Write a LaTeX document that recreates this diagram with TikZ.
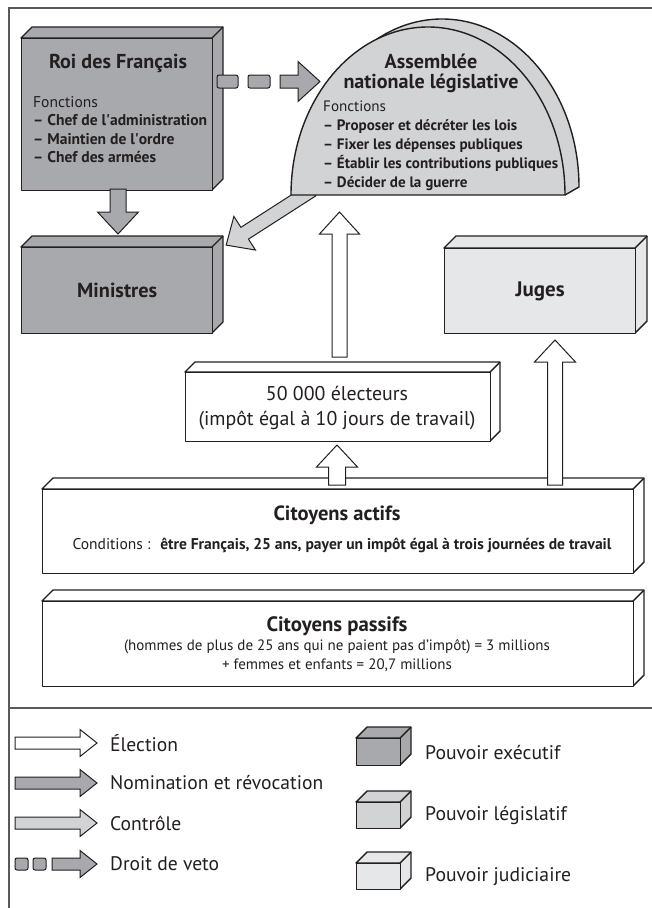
\documentclass[tikz,border=0pt]{standalone}
\usepackage{fontspec}
\setmainfont{PT Sans}
\usetikzlibrary{calc}
\definecolor{ink}{RGB}{35,31,32}
\definecolor{exe}{RGB}{167,169,172}
\definecolor{leg}{RGB}{209,211,212}
\definecolor{jud}{RGB}{230,231,232}
\definecolor{framec}{RGB}{88,89,91}
\newlength\fitw
\newcommand\fitfs[3]{%
  \settowidth\fitw{\fontsize{10}{12}\selectfont #3}%
  \pgfmathsetmacro#1{10*#2/\fitw}}
\tikzset{
  boxline/.style={draw=ink, line width=1.4pt, line join=round},
  arrline/.style={draw=ink, line width=1pt, line join=miter},
  frameline/.style={draw=framec, line width=1.2pt},
  basetxt/.style={inner sep=0pt, text=ink},
}
\newcommand\cuboid[7]{%
  \draw[boxline, fill=#6] (#2,#3) -- ({#2+#7},{#3-#7}) -- ({#4+#7},{#3-#7}) -- ({#4+#7},{#5-#7}) -- (#4,#5) -- (#4,#3) -- cycle;
  \draw[boxline] (#4,#3) -- ({#4+#7},{#3-#7});
  \node[boxline, fill=#6, inner sep=0pt, minimum width={(#4-#2)*1pt}, minimum height={(#5-#3)*1pt}, anchor=north west] (#1) at (#2,#3) {};
}
\newcommand\fatarrow[8]{%
  \begin{scope}[shift={(#2,#3)}, rotate=#4]
    \draw[arrline, fill=#1] (0,-#6) -- ({#5-#8},-#6) -- ({#5-#8},-#7) -- (#5,0) -- ({#5-#8},#7) -- ({#5-#8},#6) -- (0,#6) -- cycle;
  \end{scope}}
\newcommand\apos{\textquotesingle}
\begin{document}%
% font sizes fitted to the widths measured on the reference
\fitfs{\fsRoiT}{138}{\bfseries Roi des Français}%
\fitfs{\fsRoiL}{174}{\bfseries – Chef de l\apos administration}%
\fitfs{\fsAsT}{175}{\bfseries nationale législative}%
\fitfs{\fsAsL}{235}{\bfseries – Établir les contributions publiques}%
\fitfs{\fsMin}{80}{\bfseries Ministres}%
\fitfs{\fsJug}{49}{\bfseries Juges}%
\fitfs{\fsEle}{277}{(impôt égal à 10 jours de travail)}%
\fitfs{\fsActT}{127}{\bfseries Citoyens actifs}%
\fitfs{\fsActC}{539}{Conditions :~ \textbf{être Français, 25 ans, payer un impôt égal à trois journées de travail}}%
\fitfs{\fsPasT}{141}{\bfseries Citoyens passifs}%
\fitfs{\fsPasC}{426}{(hommes de plus de 25 ans qui ne paient pas d’impôt) = 3 millions}%
\fitfs{\fsLeg}{213}{Nomination et révocation}%
\fitfs{\fsLegR}{146}{Pouvoir judiciaire}%
\begin{tikzpicture}[x=1pt,y=-1pt]
\useasboundingbox (0,0) rectangle (652,908);
\fill[white] (0,0) rectangle (652,908);
% frame
\draw[frameline] (9,908) -- (9,8) -- (652,8);
\draw[frameline] (9,708) -- (652,708);

% boxes
\cuboid{roi}{21}{38}{212}{190}{exe}{11}
\cuboid{min}{21}{247}{212}{333}{exe}{11}
\cuboid{jug}{444}{248}{635}{333}{jud}{12}
\cuboid{ele}{185}{372}{490}{441}{white}{10}
\cuboid{act}{42}{489}{633}{573}{white}{11}
\cuboid{pas}{42}{601}{633}{686}{white}{11}

% arrows
\fatarrow{exe}{118}{189}{-90}{45}{8}{20.5}{22}
\fatarrow{leg}{312}{190}{212.7}{102}{7}{20}{22}
% veto
\draw[arrline, fill=exe, rounded corners=2pt] (217,75) rectangle (238,88);
\draw[arrline, fill=exe, rounded corners=2pt] (248,75) rectangle (270,88);
\fatarrow{exe}{280}{81.5}{0}{40}{6.5}{20}{22}

% dome (Assemblee)
\fill[leg] (305,187) arc[start angle=180, end angle=0, x radius=137pt, y radius=168pt] -- (565,195) -- cycle;
\draw[boxline] (305,187) arc[start angle=180, end angle=0, x radius=137pt, y radius=168pt] -- (565,195);
\draw[boxline, fill=leg] (291,195) arc[start angle=180, end angle=0, x radius=137pt, y radius=168pt] -- cycle;

% election arrows
\fatarrow{white}{339.5}{357}{90}{145}{7.5}{20}{22}
\fatarrow{white}{337}{485}{90}{40}{8.5}{20.5}{22}
\fatarrow{white}{555}{485}{90}{145}{7.5}{20.5}{22}

% texts
\node[basetxt, font=\fontsize{\fsRoiT}{20}\selectfont\bfseries] (roiT) at (118,63) {Roi des Français};
\node[basetxt, font=\fontsize{\fsRoiL}{18.4}\selectfont, align=left, anchor=west] (roiF) at (33,129.5) {Fonctions\\\textbf{– Chef de l\apos administration}\\\textbf{– Maintien de l\apos ordre}\\\textbf{– Chef des armées}};
\node[basetxt, font=\fontsize{\fsAsT}{20}\selectfont\bfseries, align=center] (asT) at (431,73) {Assemblée\\nationale législative};
\node[basetxt, font=\fontsize{\fsAsL}{18.9}\selectfont, align=left, anchor=west] (asF) at (323,145.5) {Fonctions\\\textbf{– Proposer et décréter les lois}\\\textbf{– Fixer les dépenses publiques}\\\textbf{– Établir les contributions publiques}\\\textbf{– Décider de la guerre}};
\node[basetxt, font=\fontsize{\fsMin}{20}\selectfont\bfseries] (minT) at (min) {Ministres};
\node[basetxt, font=\fontsize{\fsJug}{20}\selectfont\bfseries] (jugT) at (jug) {Juges};
\node[basetxt, font=\fontsize{\fsEle}{25}\selectfont, align=center] (eleT) at (337,408) {50 000 électeurs\\(impôt égal à 10 jours de travail)};
\node[basetxt, font=\fontsize{\fsActT}{20}\selectfont\bfseries] (actT) at (337,515) {Citoyens actifs};
\node[basetxt, font=\fontsize{\fsActC}{19}\selectfont] (actC) at (342,545) {Conditions :~ \textbf{être Français, 25 ans, payer un impôt égal à trois journées de travail}};
\node[basetxt, font=\fontsize{\fsPasT}{20}\selectfont\bfseries] (pasT) at (337,626) {Citoyens passifs};
\node[basetxt, font=\fontsize{\fsPasC}{19}\selectfont, align=center] (pasC) at (337,655.5) {(hommes de plus de 25 ans qui ne paient pas d’impôt) = 3 millions\\+ femmes et enfants = 20,7 millions};

% legend
\fatarrow{white}{15}{743}{0}{82}{6}{13.5}{17}
\fatarrow{exe}{15}{783}{0}{82}{6}{13.5}{17}
\fatarrow{leg}{15}{823}{0}{82}{6}{13.5}{17}
\draw[arrline, fill=exe, rounded corners=2pt] (15,858) rectangle (28,870);
\draw[arrline, fill=exe, rounded corners=2pt] (33,858) rectangle (46,870);
\fatarrow{exe}{52}{864}{0}{45}{6}{13.5}{17}
\tikzset{legtxt/.style={basetxt, font=\fontsize{\fsLeg}{20}\selectfont, anchor=west}}
\tikzset{legtxtr/.style={basetxt, font=\fontsize{\fsLegR}{20}\selectfont, anchor=west}}
\node[legtxt] (l1) at (110,743) {Élection};
\node[legtxt] (l2) at (110,783) {Nomination et révocation};
\node[legtxt] (l3) at (110,823) {Contrôle};
\node[legtxt] (l4) at (110,864) {Droit de veto};
\cuboid{lexe}{356}{738}{400}{765}{exe}{11}
\cuboid{lleg}{356}{802}{400}{828}{leg}{11}
\cuboid{ljud}{356}{863}{400}{889}{jud}{11}
\node[legtxtr] (r1) at (425,753) {Pouvoir exécutif};
\node[legtxtr] (r2) at (425,815) {Pouvoir législatif};
\node[legtxtr] (r3) at (425,877) {Pouvoir judiciaire};
\end{tikzpicture}%
\end{document}
